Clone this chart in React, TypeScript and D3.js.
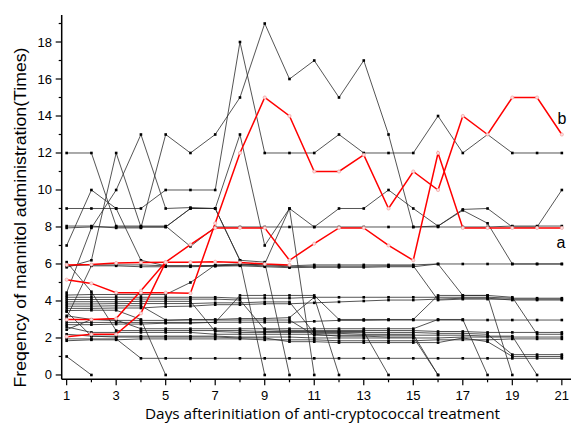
import * as d3 from "d3";

// days after initiation (x categories)
const days = [1, 2, 3, 4, 5, 6, 7, 8, 9, 10, 11, 12, 13, 14, 15, 16, 17, 18, 19, 20, 21];
const xTickLabels = [1, 3, 5, 7, 9, 11, 13, 15, 17, 19, 21];
const yTickLabels = [0, 2, 4, 6, 8, 10, 12, 14, 16, 18];
const N = null;

// highlighted patients (red)
const patientA = [3.0, 3.0, 3.05, 4.55, 6.1, 7.05, 7.95, 7.95, 7.95, 6.2, 7.1, 7.95, 7.95, 7.0, 6.2, 12, 7.95, 7.95, 7.95, 7.95, 7.95];
const patientB = [5.15, 4.95, 4.45, 4.45, 4.45, 4.42, 8.2, 12, 15, 14, 11, 11, 11.9, 9, 11, 10, 14, 13, 15, 15, 13];
const redC = [5.95, 5.97, 6.05, 6.08, 6.1, 6.1, 6.12, 6.08, 6.0, 5.95, N, N, N, N, N, N, N, N, N, N, N];
const redD = [2.07, 2.2, 2.2, 3.33, 6.1, N, N, N, N, N, N, N, N, N, N, N, N, N, N, N, N];

// other patients (black)
const k1 = [8.05, 8.05, 7.95, 7.95, 13, 12, 13, 15, 19, 16, 17, 15, 17, 13, 8.0, 8.05, 8.9, 8.2, 6.0, 6.0, 6.0];
const k2 = [9, 9, 9, 9, 10, 10, 10, 18, 12, 12, 12, 13, 12, 12, 12, 14, 12, 13, 12, 12, 12];
const k3 = [12, 12, 8.05, 8.05, 8.05, 6.95, 8.0, 8.0, 8.0, 8.0, 8.0, 8.0, 8.0, 8.0, 8.0, 8.0, 8.0, 8.0, 8.05, 8.05, 8.05];
const k4 = [4.45, 7.95, 10, 13, 9, 9.05, 9, 13, 7, 9, 8, 9, 9, 10, 9, 8.05, 8.95, 9, 8.0, 8.0, 10];
const k5 = [7, 10, 9, 6.2, 5.9, 5.9, 5.92, 5.95, 5.9, 5.85, 5.88, 5.88, 5.88, 5.9, 5.9, 4.05, 4.1, 4.1, 4.1, 4.1, 4.1];
const k6 = [5.82, 6.2, 12, 8.0, 8.0, 9.0, 9.0, 6.2, 0, N, N, N, N, N, N, N, N, N, N, N, N];
const k7 = [3.1, 5.9, 5.9, 5.85, 5.85, 5.85, 5.88, 5.9, 5.85, 5.8, 5.82, 5.82, 5.82, 5.85, 5.85, 6.0, 6.0, 6.0, 6.0, 6.0, 6.0];
const k8 = [4.32, 4.35, 4.35, 4.35, 4.35, 5.0, 5.95, 6.0, 5.95, 5.9, 5.95, 5.95, 5.95, 5.95, 5.95, 6.0, 4.3, 4.3, 0, N, N];
const z2 = [7.95, 8.0, 8.0, 8.0, 8.0, 9.0, 9.0, 6.2, 6.1, 0, N, N, N, N, N, N, N, N, N, N, N];
const z3 = [5.9, 5.95, 5.95, 5.95, 5.9, 5.9, 5.9, 5.95, 6.0, 9.0, 0, N, N, N, N, N, N, N, N, N, N];
const z4 = [3.2, 3.0, 2.95, 2.95, 2.95, 3.0, 3.0, 3.05, 3.05, 3.1, 4.2, 0, N, N, N, N, N, N, N, N, N];
const z5 = [6.1, 4.5, 2.4, 2.4, 2.4, 2.4, 2.4, 2.4, 2.35, 2.35, 2.35, 2.35, 2.35, 0, N, N, N, N, N, N, N];
const z6 = [2.45, 3.0, 2.97, 2.5, 2.5, 2.5, 2.5, 2.5, 2.5, 2.5, 2.5, 2.5, 2.5, 2.5, 2.5, 3.0, 3.0, 0, N, N, N];
const f1 = [4.2, 4.2, 4.2, 4.2, 4.2, 4.2, 4.2, 4.15, 4.15, 4.15, 4.2, 4.2, 4.2, 4.2, 4.2, 4.2, 4.2, 4.2, 4.15, 4.15, 4.15];
const f2 = [4.08, 4.08, 4.08, 4.1, 4.1, 4.1, 4.1, 4.05, 2.45, 2.4, 2.4, 2.4, 2.4, 2.4, 2.4, 2.35, 2.35, 2.3, 2.3, 2.3, 2.3];
const f3 = [3.96, 3.96, 3.96, 3.98, 3.98, 3.98, 2.35, 2.3, 2.3, 2.3, 2.3, 2.3, 2.3, 2.3, 2.3, 2.25, 2.25, 2.2, 1.1, 1.1, 1.1];
const f4 = [3.84, 3.84, 3.86, 3.86, 3.86, 3.86, 3.9, 3.9, 3.95, 3.95, 2.25, 2.25, 2.2, 2.2, 2.2, 0, N, N, N, N, N];
const f5 = [3.72, 3.72, 3.74, 3.74, 2.97, 2.97, 2.97, 2.97, 2.97, 2.97, 2.15, 2.15, 2.15, 2.15, 2.15, 2.15, 2.15, 2.1, 2.1, 0, N];
const f6 = [3.6, 3.6, 3.62, 3.62, 3.7, 3.72, 3.8, 3.8, 3.85, 3.85, 3.9, 3.95, 4.0, 4.05, 4.05, 4.1, 4.15, 4.15, 4.05, 4.05, 4.05];
const f7 = [3.48, 3.5, 3.5, 3.0, 0, N, N, N, N, N, N, N, N, N, N, N, N, N, N, N, N];
const f8 = [2.84, 2.84, 2.84, 2.84, 2.84, 2.84, 2.84, 4.3, 4.3, 4.3, 4.3, 3.0, 3.0, 3.0, 3.0, 4.3, 4.3, 4.3, 4.2, 2.2, 2.2];
const h1 = [2.72, 2.72, 2.75, 2.75, 2.8, 2.8, 2.85, 2.85, 2.85, 2.85, 2.9, 2.95, 2.95, 2.97, 2.97, 2.97, 2.97, 2.97, 2.97, 2.97, 2.97];
const a1 = [1.0, 0, N, N, N, N, N, N, N, N, N, N, N, N, N, N, N, N, N, N, N];
const a2 = [1.95, 1.95, 1.95, 0.9, 0.9, 0.9, 0.9, 0.9, 0.9, 0.9, 0.9, 0.9, 0.9, 0.9, 0.9, 0.9, 0.9, 0.9, 0.9, 0.9, 0.9];
const h2 = [1.85, 1.9, 1.9, 1.95, 1.95, 1.95, 1.95, 1.95, 1.9, 1.9, 1.9, 1.85, 1.85, 1.85, 1.85, 1.9, 1.9, 1.9, 1.95, 1.95, 1.95];
const h3 = [2.6, 2.3, 2.3, 2.3, 2.3, 2.3, 2.2, 2.2, 2.2, 2.2, 2.2, 2.1, 2.1, 2.05, 2.05, 0, N, N, N, N, N];
const h4 = [2.2, 2.1, 2.05, 2.05, 2.05, 2.05, 2.05, 2.0, 2.0, 1.8, 1.8, 1.75, 1.75, 1.75, 1.75, 1.75, 2.0, 1.8, 1.0, 1.0, 1.0];
const h5 = [3.42, 2.1, 2.1, 2.1, 2.1, 2.1, 2.1, 2.05, 2.05, 2.05, 2.0, 2.0, 2.0, 2.0, 2.0, 2.0, 2.05, 2.05, 2.05, 2.05, 2.05];

const blackSeries = [k1, k2, k3, k4, k5, k6, k7, k8, z2, z3, z4, z5, z6, f1, f2, f3, f4, f5, f6, f7, f8, h1, a1, a2, h2, h3, h4, h5];
const redSeries = [redC, redD, patientA, patientB];

const W = 571;
const H = 423;

export default function App() {
  const x = d3.scaleLinear().domain([0.8, 21.37]).range([61.7, 571]);
  const y = d3.scaleLinear().domain([-0.234, 19.46]).range([379.3, 15]);
  const axisY = y(-0.234);
  const axisX = x(0.8);

  const toPoints = (s: (number | null)[]) =>
    s.map((v, i) => ({ d: days[i], v })).filter((p) => p.v !== null) as { d: number; v: number }[];

  const line = d3
    .line<{ d: number; v: number }>()
    .x((p) => x(p.d))
    .y((p) => y(p.v));

  const yMinor = [1, 3, 5, 7, 9, 11, 13, 15, 17, 19];
  const font = "'Liberation Sans', Arial, sans-serif";

  return (
    <svg width={W} height={H} style={{ position: "absolute", left: 0, top: 0, background: "#fff" }}>
      {/* black lines */}
      <g fill="none" stroke="#2a2a2a" strokeWidth={0.8}>
        {blackSeries.map((s, i) => (
          <path key={i} d={line(toPoints(s)) || ""} />
        ))}
      </g>
      <g fill="#000">
        {blackSeries.map((s, i) =>
          toPoints(s).map((p, j) => (
            <rect key={`${i}-${j}`} x={x(p.d) - 1.3} y={y(p.v) - 1.3} width={2.6} height={2.6} />
          ))
        )}
      </g>
      {/* red lines */}
      <g fill="none" stroke="#f00" strokeWidth={1.5}>
        {redSeries.map((s, i) => (
          <path key={i} d={line(toPoints(s)) || ""} />
        ))}
      </g>
      <g fill="#fde0e0" stroke="#f2a0a0" strokeWidth={0.7}>
        {redSeries.map((s, i) =>
          toPoints(s).map((p, j) => <circle key={`${i}-${j}`} cx={x(p.d)} cy={y(p.v)} r={1.6} />)
        )}
      </g>

      {/* axes */}
      <g stroke="#000" strokeWidth={1.5}>
        <line x1={axisX} x2={axisX} y1={15} y2={axisY} />
        <line x1={axisX} x2={W} y1={axisY} y2={axisY} />
      </g>
      <g stroke="#000" strokeWidth={1.2}>
        {yTickLabels.map((t) => (
          <line key={`ym${t}`} x1={axisX - 6} x2={axisX} y1={y(t)} y2={y(t)} />
        ))}
        {yMinor.map((t) => (
          <line key={`yn${t}`} x1={axisX - 3} x2={axisX} y1={y(t)} y2={y(t)} />
        ))}
        {days.map((d) => (
          <line key={`x${d}`} x1={x(d)} x2={x(d)} y1={axisY} y2={axisY + (d % 2 === 1 ? 6 : 3)} />
        ))}
      </g>
      <g fontFamily={font} fontSize={13} fill="#000">
        {yTickLabels.map((t) => (
          <text key={`yl${t}`} x={52} y={y(t)} textAnchor="end" dominantBaseline="central">
            {t}
          </text>
        ))}
        {xTickLabels.map((t) => (
          <text key={`xl${t}`} x={x(t)} y={400} textAnchor="middle">
            {t}
          </text>
        ))}
      </g>
      <text
        x={0}
        y={0}
        transform="translate(25.5,217.5) rotate(-90)"
        textAnchor="middle"
        fontFamily={font}
        fontSize={16}
        textLength={340}
        lengthAdjust="spacingAndGlyphs"
      >
        Freqency of mannitol administration(Times)
      </text>
      <text
        x={145}
        y={419}
        fontFamily="'Open Sans', sans-serif"
        fontSize={14}
        textLength={355}
        lengthAdjust="spacingAndGlyphs"
      >
        Days afterinitiation of anti-cryptococcal treatment
      </text>
      <text x={557.5} y={124} fontFamily={font} fontSize={16}>b</text>
      <text x={556.5} y={248} fontFamily={font} fontSize={16}>a</text>
    </svg>
  );
}
